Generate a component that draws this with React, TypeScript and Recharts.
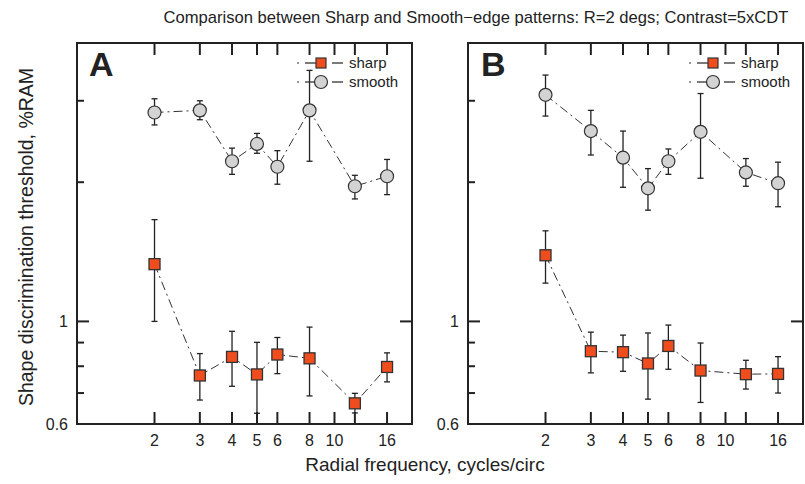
import { ScatterChart, Scatter, XAxis, YAxis, ErrorBar } from 'recharts'

// radial frequency, cycles/circ
const freqs = [2, 3, 4, 5, 6, 8, 12, 16]

// panel A
const aSmooth = [2.83, 2.86, 2.22, 2.42, 2.16, 2.86, 1.96, 2.06]
const aSmoothLo = [2.66, 2.73, 2.08, 2.31, 1.98, 2.22, 1.84, 1.88]
const aSmoothHi = [3.03, 3.0, 2.37, 2.55, 2.34, 3.49, 2.07, 2.24]
const aSharp = [1.33, 0.764, 0.838, 0.768, 0.848, 0.832, 0.665, 0.797]
const aSharpLo = [1.0, 0.676, 0.724, 0.633, 0.771, 0.69, 0.634, 0.74]
const aSharpHi = [1.66, 0.852, 0.952, 0.901, 0.923, 0.972, 0.699, 0.855]

// panel B
const bSmooth = [3.09, 2.58, 2.26, 1.94, 2.22, 2.57, 2.1, 1.99]
const bSmoothLo = [2.78, 2.29, 1.95, 1.74, 2.08, 2.04, 1.96, 1.77]
const bSmoothHi = [3.41, 2.86, 2.58, 2.14, 2.36, 3.11, 2.25, 2.21]
const bSharp = [1.39, 0.862, 0.858, 0.811, 0.885, 0.783, 0.769, 0.77]
const bSharpLo = [1.21, 0.774, 0.78, 0.679, 0.788, 0.668, 0.714, 0.7]
const bSharpHi = [1.57, 0.948, 0.934, 0.944, 0.982, 0.898, 0.824, 0.839]

const xTicks = [2, 3, 4, 5, 6, 8, 10, 12, 16]
const xLabelSkip = [12]
const yTicks = [0.6, 0.7, 0.8, 0.9, 1, 2, 3]
const yLabels = [0.6, 1]

const FONT = '"Liberation Sans", Arial, Helvetica, sans-serif'
const INK = '#222'
const ORANGE = '#f04d1e'
const GREY = '#d3d3d3'
const PLOT_W = 335
const PLOT_H = 381
const PLOT_TOP = 43

function rows(vals: number[], lo: number[], hi: number[]) {
  return freqs.map((f, i) => ({ f, v: vals[i], err: [vals[i] - lo[i], hi[i] - vals[i]] }))
}

// inward ticks on all four sides; the bottom axis carries the labels
function XTick({ x, y, payload }: any) {
  const v = payload.value
  return (
    <g>
      <line x1={x} x2={x} y1={y} y2={y - 12} stroke={INK} strokeWidth={2} />
      <line x1={x} x2={x} y1={y - PLOT_H} y2={y - PLOT_H + 12} stroke={INK} strokeWidth={2} />
      {!xLabelSkip.includes(v) && (
        <text x={x} y={y + 22} textAnchor="middle" fontSize={16} fontFamily={FONT} fill={INK}>
          {v}
        </text>
      )}
    </g>
  )
}

function YTick({ x, y, payload }: any) {
  const v = payload.value
  const major = v === 1
  return (
    <g>
      <line x1={x} x2={x + (major ? 12 : 7)} y1={y} y2={y} stroke={INK} strokeWidth={2} />
      {major && <line x1={x + PLOT_W - 12} x2={x + PLOT_W} y1={y} y2={y} stroke={INK} strokeWidth={2} />}
      {yLabels.includes(v) && (
        <text x={x - 9} y={y + 6} textAnchor="end" fontSize={16} fontFamily={FONT} fill={INK}>
          {v}
        </text>
      )}
    </g>
  )
}

const square = (p: any) => (
  <rect x={p.cx - 5.5} y={p.cy - 5.5} width={11} height={11} fill={ORANGE} stroke="#333" strokeWidth={1.3} />
)
const circle = (p: any) => <circle cx={p.cx} cy={p.cy} r={6.5} fill={GREY} stroke="#333" strokeWidth={1.2} />

const lineStyle = { stroke: '#333', strokeWidth: 1, strokeDasharray: '9 4 2 4' }

function Frame({ left }: { left: number }) {
  const bar = (l: number, t: number, w: number, h: number) => (
    <div style={{ position: 'absolute', left: l, top: t, width: w, height: h, backgroundColor: INK }} />
  )
  return (
    <>
      {bar(left - 1, PLOT_TOP - 1, PLOT_W + 2, 2)}
      {bar(left - 1, PLOT_TOP + PLOT_H - 1, PLOT_W + 2, 2)}
      {bar(left - 1, PLOT_TOP - 1, 2, PLOT_H + 2)}
      {bar(left + PLOT_W - 1, PLOT_TOP - 1, 2, PLOT_H + 2)}
    </>
  )
}

function Panel({ smooth, sharp, left, marginLeft, marginRight }: any) {
  const width = marginLeft + 40 + PLOT_W + marginRight
  return (
    <div style={{ position: 'absolute', left, top: 0 }}>
      <ScatterChart width={width} height={484} margin={{ top: PLOT_TOP, right: marginRight, bottom: 30, left: marginLeft }}>
        <XAxis
          type="number"
          dataKey="f"
          scale="log"
          domain={[1, 20]}
          allowDataOverflow
          ticks={xTicks}
          interval={0}
          axisLine={false}
          tickLine={false}
          tickSize={0}
          tickMargin={0}
          height={30}
          tick={<XTick />}
        />
        <YAxis
          type="number"
          dataKey="v"
          scale="log"
          domain={[0.6, 4]}
          allowDataOverflow
          ticks={yTicks}
          interval={0}
          axisLine={false}
          tickLine={false}
          tickSize={0}
          tickMargin={0}
          width={40}
          tick={<YTick />}
        />
        <Scatter data={smooth} line={lineStyle} shape={circle} isAnimationActive={false}>
          <ErrorBar dataKey="err" direction="y" width={3} stroke={INK} strokeWidth={1.3} />
        </Scatter>
        <Scatter data={sharp} line={lineStyle} shape={square} isAnimationActive={false}>
          <ErrorBar dataKey="err" direction="y" width={3} stroke={INK} strokeWidth={1.3} />
        </Scatter>
      </ScatterChart>
    </div>
  )
}

function LegendBox({ left }: { left: number }) {
  const item = (label: string, marker: any) => (
    <div style={{ display: 'flex', alignItems: 'center', height: 19 }}>
      <svg width={52} height={16}>
        <line x1={1} x2={3} y1={8} y2={8} stroke="#333" strokeWidth={1} />
        <line x1={9} x2={20} y1={8} y2={8} stroke="#333" strokeWidth={1.3} />
        {marker}
        <line x1={36} x2={47} y1={8} y2={8} stroke="#333" strokeWidth={1.3} />
      </svg>
      <span style={{ marginLeft: 1 }}>{label}</span>
    </div>
  )
  return (
    <div style={{ position: 'absolute', left, top: 53, fontFamily: FONT, fontSize: 15, color: INK }}>
      {item('sharp', <rect x={20} y={3} width={10} height={10} fill={ORANGE} stroke="#333" strokeWidth={1.2} />)}
      {item('smooth', <circle cx={25} cy={8} r={6.5} fill={GREY} stroke="#333" strokeWidth={1.2} />)}
    </div>
  )
}

export default function App() {
  const aSm = rows(aSmooth, aSmoothLo, aSmoothHi)
  const aSh = rows(aSharp, aSharpLo, aSharpHi)
  const bSm = rows(bSmooth, bSmoothLo, bSmoothHi)
  const bSh = rows(bSharp, bSharpLo, bSharpHi)
  const letter = {
    position: 'absolute' as const,
    top: 44,
    fontFamily: FONT,
    fontSize: 34,
    fontWeight: 700,
    color: INK,
    lineHeight: '40px',
  }

  return (
    <div style={{ position: 'absolute', left: 0, top: 0, width: 805, height: 484, background: '#fff', overflow: 'hidden' }}>
      <Panel smooth={aSm} sharp={aSh} left={0} marginLeft={37} marginRight={8} />
      <Panel smooth={bSm} sharp={bSh} left={420} marginLeft={8} marginRight={2} />
      <Frame left={77} />
      <Frame left={468} />
      <div style={{ ...letter, left: 89 }}>A</div>
      <div style={{ ...letter, left: 481 }}>B</div>
      <LegendBox left={296} />
      <LegendBox left={688} />
      <div
        style={{
          position: 'absolute',
          left: 76,
          width: 800,
          top: 8,
          textAlign: 'center',
          fontFamily: FONT,
          fontSize: 16.6,
          color: INK,
          whiteSpace: 'nowrap',
        }}
      >
        Comparison between Sharp and Smooth−edge patterns: R=2 degs; Contrast=5xCDT
      </div>
      <div
        style={{
          position: 'absolute',
          left: 225,
          width: 400,
          top: 454,
          textAlign: 'center',
          fontFamily: FONT,
          fontSize: 19,
          color: INK,
        }}
      >
        Radial frequency, cycles/circ
      </div>
      <div
        style={{
          position: 'absolute',
          left: 26 - 200,
          top: 237 - 11,
          width: 400,
          height: 22,
          lineHeight: '22px',
          textAlign: 'center',
          transform: 'rotate(-90deg)',
          fontFamily: FONT,
          fontSize: 19.5,
          color: INK,
          whiteSpace: 'nowrap',
        }}
      >
        Shape discrimination threshold, %RAM
      </div>
    </div>
  )
}
